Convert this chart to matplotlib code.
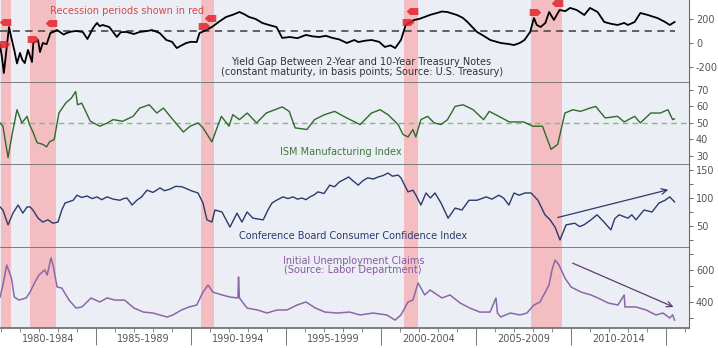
import matplotlib.pyplot as plt
from matplotlib.ticker import FixedLocator, MultipleLocator

# recessions (start, end) in fractional years
recessions = [(1980.0, 1980.5), (1981.5, 1982.9), (1990.5, 1991.2),
              (2001.2, 2001.95), (2007.9, 2009.5)]

# 10y - 2y treasury spread, basis points
yield_dates = [1979.95, 1980.05, 1980.15, 1980.3, 1980.42, 1980.55, 1980.7, 1980.84,
               1981.0, 1981.12, 1981.25, 1981.42, 1981.55, 1981.63, 1981.7, 1981.95,
               1982.05, 1982.2, 1982.4, 1982.6, 1982.75, 1982.95, 1983.1, 1983.3,
               1983.45, 1983.7, 1983.95, 1984.3, 1984.55, 1984.85, 1985.05, 1985.2,
               1985.35, 1985.7, 1986.1, 1986.3, 1986.6, 1987.0, 1987.3, 1987.7,
               1987.95, 1988.35, 1988.7, 1989.0, 1989.25, 1989.5, 1989.75, 1990.0,
               1990.3, 1990.45, 1990.8, 1991.1, 1991.5, 1991.85, 1992.2, 1992.55,
               1992.8, 1993.05, 1993.4, 1993.75, 1994.1, 1994.5, 1994.8, 1995.2,
               1995.6, 1996.05, 1996.4, 1996.75, 1997.1, 1997.45, 1997.8, 1998.2,
               1998.6, 1998.8, 1999.2, 1999.5, 1999.9, 2000.2, 2000.5, 2000.75,
               2001.05, 2001.3, 2001.5, 2001.75, 2002.0, 2002.3, 2002.6, 2002.95,
               2003.2, 2003.5, 2003.75, 2004.0, 2004.3, 2004.55, 2005.05, 2005.4,
               2005.75, 2006.3, 2006.7, 2007.0, 2007.3, 2007.55, 2007.85, 2008.05,
               2008.2, 2008.4, 2008.65, 2008.85, 2009.1, 2009.4, 2009.7, 2009.95,
               2010.3, 2010.7, 2011.0, 2011.4, 2011.75, 2012.1, 2012.45, 2012.8,
               2013.0, 2013.35, 2013.65, 2014.05, 2014.3, 2014.55, 2014.95, 2015.2,
               2015.45]
yield_gap = [-20, -120, -250, -40, 133, 40, -60, -170,
             -83, -140, -167, -58, -120, -158, 0, 25,
             -75, 0, -10, 83, 92, 108, 92, 70,
             83, 95, 100, 92, 33, 125, 167, 140,
             150, 133, 50, 90, 92, 75, 92, 100,
             108, 83, 25, 10, -42, -20, 0, 10,
             8, 83, 108, 133, 180, 217, 235, 258,
             240, 217, 200, 167, 150, 133, 42, 50,
             40, 67, 55, 50, 60, 42, 30, 0,
             25, 8, 20, 25, 10, -33, -20, -42,
             25, 150, 170, 192, 200, 217, 235, 250,
             262, 258, 245, 233, 210, 175, 92, 60,
             25, 0, -8, -17, 0, 25, 92, 208,
             150, 133, 167, 258, 192, 275, 265, 292,
             275, 233, 292, 258, 175, 160, 150, 167,
             150, 175, 250, 233, 220, 208, 175, 150,
             175]

# recession flags on the spread line (start ">" and end "<")
flag_start_dates = [1980.16, 1981.68, 1990.68, 2001.42, 2008.1]
flag_start_vals = [-8, 33, 142, 175, 258]
flag_end_dates = [1980.2, 1982.63, 1991.0, 2001.63, 2009.26]
flag_end_vals = [175, 167, 208, 267, 333]

ism_dates = [1979.95, 1980.1, 1980.37, 1980.6, 1980.84, 1981.1, 1981.37, 1981.5,
             1981.7, 1981.9, 1982.2, 1982.4, 1982.55, 1982.8, 1983.05, 1983.4,
             1983.7, 1983.93, 1984.03, 1984.25, 1984.7, 1985.2, 1985.6, 1985.9,
             1986.4, 1986.95, 1987.3, 1987.8, 1988.2, 1988.55, 1988.9, 1989.6,
             1989.95, 1990.37, 1990.63, 1991.1, 1991.4, 1991.6, 1992.0, 1992.2,
             1992.55, 1992.96, 1993.45, 1993.96, 1994.8, 1995.17, 1995.48, 1996.1,
             1996.5, 1997.03, 1997.56, 1998.2, 1998.9, 1999.5, 1999.95, 2000.37,
             2000.9, 2001.16, 2001.42, 2001.68, 2001.83, 2002.1, 2002.45, 2002.8,
             2003.16, 2003.5, 2003.9, 2004.32, 2004.85, 2005.4, 2005.7, 2006.2,
             2006.75, 2007.5, 2008.0, 2008.5, 2008.95, 2009.3, 2009.68, 2010.1,
             2010.5, 2011.0, 2011.3, 2011.8, 2012.45, 2012.8, 2013.35, 2013.65,
             2014.2, 2014.7, 2015.1, 2015.35, 2015.45]
ism_index = [50, 48, 29, 44, 58, 50, 54, 49,
             44, 38, 37, 35.5, 38.5, 40, 56, 62,
             65, 69, 61, 62, 51, 48, 50, 52,
             51, 54, 59, 61, 56, 59, 54, 44.5,
             48, 50, 47, 38.5, 48, 54, 48, 55,
             52, 56, 50, 56, 59.7, 57, 47, 46,
             52, 55, 57, 53, 49, 56, 58, 55,
             49, 43, 41.5, 46, 41.5, 52, 54, 50,
             49, 52, 60, 61, 58, 52, 57, 54,
             50.6, 50.6, 48, 48, 34, 37, 56, 58,
             57, 59, 60, 53, 54, 50.6, 54, 50,
             56, 56, 58, 52, 52.5]

conf_dates = [1979.95, 1980.1, 1980.37, 1980.63, 1980.9, 1981.15, 1981.37, 1981.53,
              1981.68, 1981.95, 1982.2, 1982.47, 1982.73, 1983.0, 1983.2, 1983.37,
              1983.8, 1984.0, 1984.25, 1984.53, 1984.8, 1985.05, 1985.3, 1985.58,
              1985.9, 1986.26, 1986.45, 1986.63, 1986.9, 1987.15, 1987.4, 1987.68,
              1988.0, 1988.37, 1988.6, 1988.9, 1989.2, 1989.53, 1990.05, 1990.37,
              1990.63, 1990.84, 1991.1, 1991.26, 1991.63, 1992.05, 1992.42, 1992.68,
              1992.95, 1993.26, 1993.8, 1994.05, 1994.26, 1994.5, 1994.84, 1995.1,
              1995.37, 1995.6, 1995.84, 1996.05, 1996.26, 1996.5, 1996.68, 1997.0,
              1997.3, 1997.55, 1997.8, 1998.05, 1998.3, 1998.55, 1998.8, 1999.05,
              1999.3, 1999.6, 1999.84, 2000.1, 2000.37, 2000.6, 2000.9, 2001.05,
              2001.42, 2001.68, 2001.84, 2002.1, 2002.37, 2002.6, 2002.84, 2003.16,
              2003.53, 2003.9, 2004.26, 2004.63, 2005.05, 2005.3, 2005.53, 2005.84,
              2006.2, 2006.45, 2006.73, 2007.0, 2007.26, 2007.58, 2007.9, 2008.26,
              2008.63, 2008.9, 2009.16, 2009.42, 2009.74, 2010.2, 2010.45, 2010.68,
              2011.05, 2011.37, 2011.74, 2012.1, 2012.3, 2012.53, 2013.0, 2013.2,
              2013.42, 2013.84, 2014.26, 2014.63, 2014.95, 2015.2, 2015.45]
conf_index = [84, 78.6, 52, 73, 87.5, 73, 84, 84,
              78.6, 64, 57, 61, 55, 57, 78.6, 91,
              96, 105, 101, 103.6, 99, 102, 97, 102,
              98, 96, 99, 100, 87.5, 96, 102, 114,
              110, 118, 113, 116, 121, 120, 112.5, 109,
              91, 61, 57, 78.6, 75, 48, 73, 57,
              75, 64, 61, 78.6, 91, 96, 102, 99,
              102, 98, 100, 97, 102, 106, 111, 108,
              123, 120, 128.6, 133, 137.5, 130, 123, 131,
              136, 134, 137.5, 140, 144.6, 139, 141, 136,
              111, 114, 105, 87.5, 109, 100, 109, 91,
              64, 82, 78.6, 96, 96, 99, 102, 98,
              105, 100, 87.5, 109, 105, 109, 109, 96,
              70, 61, 48, 25, 52, 55, 49, 52,
              61, 70, 57, 43, 63, 70, 64, 70,
              61, 78.6, 75, 91, 96, 102, 93]

claims_dates = [1979.95, 1980.1, 1980.3, 1980.55, 1980.7, 1980.95, 1981.32, 1981.5,
                1981.79, 1982.0, 1982.3, 1982.43, 1982.63, 1982.74, 1982.95, 1983.2,
                1983.58, 1983.95, 1984.26, 1984.74, 1985.2, 1985.58, 1986.0, 1986.5,
                1987.0, 1987.5, 1988.0, 1988.35, 1988.75, 1989.05, 1989.5, 1989.9,
                1990.3, 1990.63, 1990.9, 1991.15, 1991.63, 1992.05, 1992.47, 1992.5,
                1992.55, 1992.95, 1993.5, 1994.0, 1994.53, 1995.05, 1995.58, 1996.05,
                1996.55, 1997.05, 1997.7, 1998.35, 1998.9, 1999.58, 2000.3, 2000.74,
                2001.05, 2001.42, 2001.68, 2001.95, 2002.3, 2002.58, 2003.21, 2003.63,
                2004.16, 2004.68, 2005.2, 2005.74, 2006.05, 2006.13, 2006.3, 2006.8,
                2007.32, 2007.68, 2008.05, 2008.37, 2008.84, 2009.0, 2009.16, 2009.37,
                2009.68, 2010.0, 2010.53, 2011.05, 2011.42, 2011.95, 2012.47, 2012.8,
                2012.84, 2012.9, 2013.42, 2013.95, 2014.47, 2014.84, 2015.2, 2015.35,
                2015.45]
claims = [431, 506, 631, 550, 431, 412, 425, 456,
          525, 569, 600, 569, 675, 631, 494, 487,
          412, 362, 369, 425, 400, 425, 412, 412,
          362, 337, 331, 319, 306, 319, 350, 369,
          381, 462, 506, 462, 444, 431, 425, 556,
          425, 362, 350, 331, 350, 350, 381, 400,
          362, 337, 331, 337, 319, 331, 319, 287,
          319, 400, 412, 519, 444, 475, 425, 444,
          394, 362, 337, 337, 425, 331, 306, 331,
          319, 331, 381, 400, 506, 600, 662, 631,
          550, 494, 462, 444, 425, 394, 381, 444,
          369, 369, 369, 350, 319, 331, 300, 320,
          287]

# trend arrows (start/end date, start/end value)
conf_arrow = [(2009.16, 64), (2015.26, 116)]
claims_arrow = [(2009.95, 650), (2015.53, 362)]

period_labels = ['1980-1984', '1985-1989', '1990-1994', '1995-1999',
                 '2000-2004', '2005-2009', '2010-2014']

plt.rcParams['font.family'] = 'DejaVu Sans'
bg = '#eceef6'
grid_c = '#6a6a6a'
tick_c = '#555555'

fig = plt.figure(figsize=(7.18, 3.48), dpi=100)
gs = fig.add_gridspec(4, 1, left=0.0, right=0.9596, top=1.0, bottom=0.0575,
                      hspace=0.0, height_ratios=[83, 82, 83, 80])
axes = [fig.add_subplot(gs[i]) for i in range(4)]

for ax in axes:
    ax.set_facecolor(bg)
    ax.set_xlim(1979.947, 2016.21)
    for s0, s1 in recessions:
        ax.axvspan(s0, s1, color='#f6adb0', alpha=0.75, lw=0, zorder=1)
    ax.spines['left'].set_visible(False)
    ax.spines['top'].set_visible(False)
    ax.spines['right'].set_color(grid_c)
    ax.spines['bottom'].set_color(grid_c)
    ax.spines['bottom'].set_linewidth(1.2)
    ax.yaxis.tick_right()
    ax.tick_params(axis='y', which='both', colors=tick_c, labelsize=7,
                   length=3, width=0.6, pad=2)
    ax.tick_params(axis='x', which='both', bottom=False, labelbottom=False)

# panel 1: yield gap
a1 = axes[0]
a1.plot(yield_dates, yield_gap, color='black', lw=1.3, zorder=3)
a1.hlines(100, yield_dates[0], yield_dates[-1], colors='#555555', lw=1.3,
          linestyles=(0, (4, 3)), zorder=2)
flag_r = [(-1, 0.6), (0.4, 0.6), (1, 0), (0.4, -0.6), (-1, -0.6), (-1, 0.6)]
flag_l = [(1, 0.6), (-0.4, 0.6), (-1, 0), (-0.4, -0.6), (1, -0.6), (1, 0.6)]
a1.scatter(flag_start_dates, flag_start_vals, marker=flag_r, s=70,
           color='#e2262f', alpha=0.85, lw=0, zorder=4)
a1.scatter(flag_end_dates, flag_end_vals, marker=flag_l, s=70,
           color='#e2262f', alpha=0.85, lw=0, zorder=4)
a1.set_ylim(-333, 358)
a1.set_yticks([-200, 0, 200])
a1.set_yticklabels(['-200', '0', '200'])
a1.text(0.184, 0.867, 'Recession periods shown in red', transform=a1.transAxes,
        ha='center', va='center', fontsize=7, color='#d9474b')
a1.text(0.524, 0.253, 'Yield Gap Between 2-Year and 10-Year Treasury Notes',
        transform=a1.transAxes, ha='center', va='center', fontsize=7, color='#333333')
a1.text(0.526, 0.133, '(constant maturity, in basis points; Source: U.S. Treasury)',
        transform=a1.transAxes, ha='center', va='center', fontsize=7, color='#333333')

# panel 2: ISM
a2 = axes[1]
a2.plot(ism_dates, ism_index, color='#2f6a2a', lw=1.0, zorder=3)
a2.axhline(50, color='#77c377', lw=1.0, ls=(0, (4, 3)), zorder=2)
a2.set_ylim(24.5, 74.2)
a2.set_yticks([30, 40, 50, 60, 70])
a2.text(0.495, 0.16, 'ISM Manufacturing Index', transform=a2.transAxes,
        ha='center', va='center', fontsize=7, color='#3d7a3a')

# panel 3: Conference Board
a3 = axes[2]
a3.plot(conf_dates, conf_index, color='#2c3a6c', lw=1.0, zorder=3)
a3.set_ylim(10.7, 159)
a3.set_yticks([50, 100, 150])
a3.yaxis.set_minor_locator(FixedLocator([25, 75, 125]))
a3.annotate('', xy=conf_arrow[1], xytext=conf_arrow[0],
            arrowprops=dict(arrowstyle='->', color='#2c3a6c', lw=0.9), zorder=4)
a3.text(0.513, 0.145, 'Conference Board Consumer Confidence Index',
        transform=a3.transAxes, ha='center', va='center', fontsize=7, color='#2c3a6c')

# panel 4: claims
a4 = axes[3]
a4.plot(claims_dates, claims, color='#8a68a8', lw=1.1, zorder=3)
a4.set_ylim(237.5, 737.5)
a4.set_yticks([400, 600])
a4.yaxis.set_minor_locator(FixedLocator([300, 500, 700]))
a4.annotate('', xy=claims_arrow[1], xytext=claims_arrow[0],
            arrowprops=dict(arrowstyle='->', color='#5a3f6a', lw=0.9), zorder=4)
a4.text(0.514, 0.84, 'Initial Unemployment Claims', transform=a4.transAxes,
        ha='center', va='center', fontsize=7, color='#8a5aa0')
a4.text(0.512, 0.725, '(Source: Labor Department)', transform=a4.transAxes,
        ha='center', va='center', fontsize=7, color='#8a5aa0')

# bottom time axis: long separators every five years, short ticks every year
a4.tick_params(axis='x', which='major', bottom=True, length=12, width=0.7,
               color='#777777')
a4.tick_params(axis='x', which='minor', bottom=True, length=3, width=0.6,
               color='#777777')
a4.xaxis.set_major_locator(FixedLocator([1985, 1990, 1995, 2000, 2005, 2010, 2015]))
a4.xaxis.set_minor_locator(MultipleLocator(1))
for i, lab in enumerate(period_labels):
    a4.text(1982.5 + 5 * i, -0.14, lab, transform=a4.get_xaxis_transform(),
            ha='center', va='center', fontsize=7, color=tick_c)

fig.savefig('out.png', dpi=100)
